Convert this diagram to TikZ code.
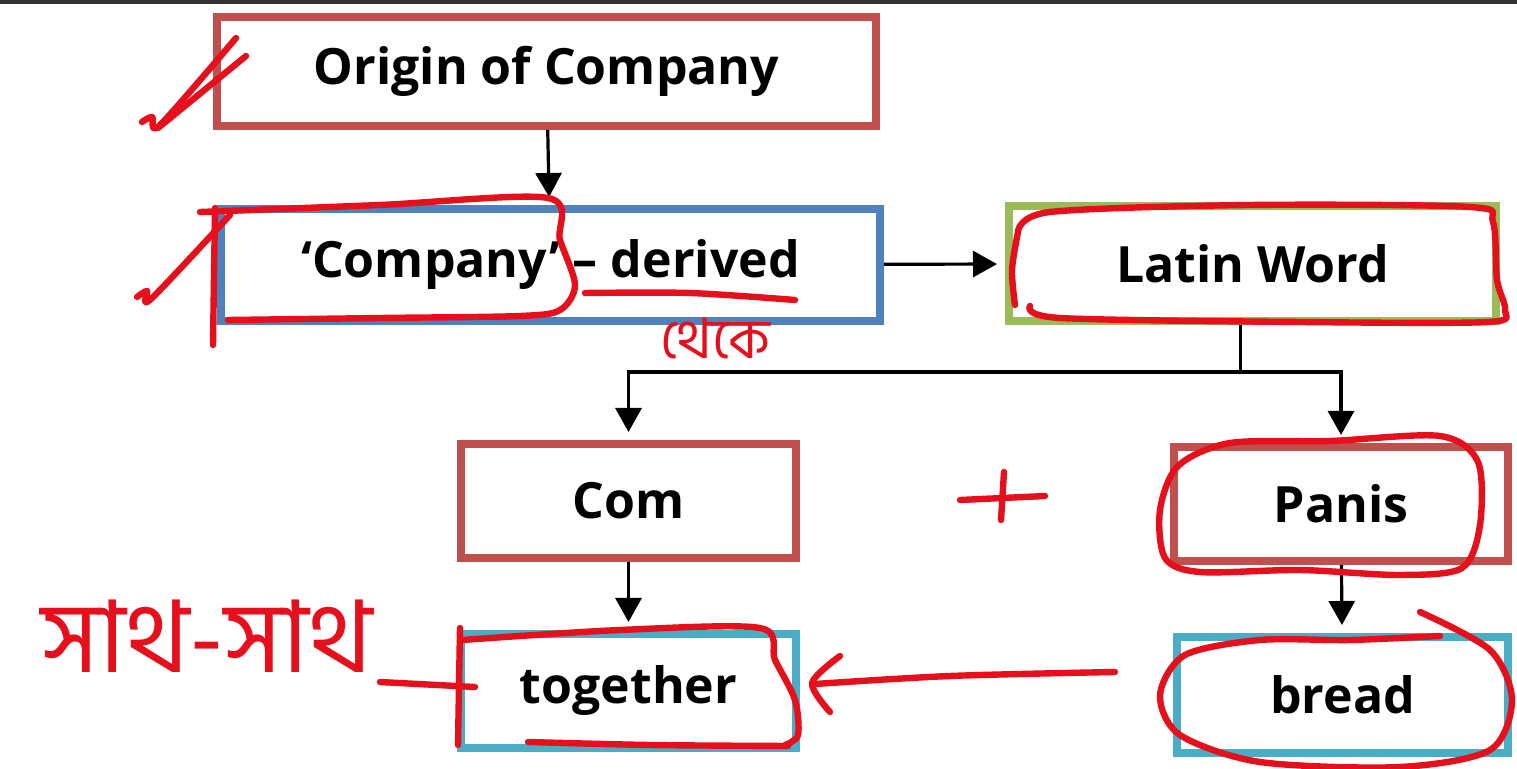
\documentclass[tikz,border=0pt]{standalone}
\usepackage{fontspec}
\setmainfont{Open Sans}
\newfontfamily\bnfont[Script=Bengali]{Hind Siliguri}
\usepackage{tikz}
\usetikzlibrary{arrows.meta}
\definecolor{boxred}{HTML}{C0504D}
\definecolor{boxblue}{HTML}{4F81BD}
\definecolor{boxgreen}{HTML}{9BBB59}
\definecolor{boxcyan}{HTML}{4BACC6}
\definecolor{penred}{HTML}{E5101C}
\definecolor{topline}{HTML}{333333}

\begin{document}
\begin{tikzpicture}[x=0.5pt,y=-0.5pt,
    box/.style={draw, line width=4pt, fill=white, inner sep=0pt,
      font=\fontsize{25}{30}\selectfont\bfseries},
    arr/.style={line width=1.6pt, shorten >=4pt, -{Triangle[length=12pt,width=13pt]}},
    hand/.style={penred, line width=3.2pt, line cap=round, line join=round}]
    \useasboundingbox (0,0) rectangle (1517,769);
    \fill[topline] (0,0) rectangle (1517,4);

    % boxes
    \node[box, draw=boxred, minimum width=329.5pt, minimum height=54.5pt] (origin) at (546.5,71.5) {Origin of Company};
    \node[box, draw=boxblue, minimum width=329.5pt, minimum height=56pt] (company) at (550.5,265) {`Company' -- derived};
    \node[box, draw=boxgreen, minimum width=243.5pt, minimum height=57.5pt] (latin) at (1252.5,263.5) {Latin Word};
    \node[box, draw=boxred, minimum width=167.5pt, minimum height=57pt] (com) at (628.5,501) {Com};
    \node[box, draw=boxred, minimum width=167pt, minimum height=57pt] (panis) at (1341,504) {Panis};
    \node[box, draw=boxcyan, minimum width=167.5pt, minimum height=57pt] (together) at (628.5,691) {together};
    \node[box, draw=boxcyan, minimum width=165.5pt, minimum height=58pt] (bread) at (1342.5,695) {bread};

    % connectors
    \draw[arr] (origin) -- (company);
    \draw[arr] (company) -- (latin);
    \draw[arr] ([xshift=-6pt]latin.south) -- ++(0,47) -| (com.north);
    \draw[arr] ([xshift=-6pt]latin.south) -- ++(0,47) -| (panis.north);
    \draw[arr] (com) -- (together);
    \draw[arr] (panis) -- (bread);

    % hand written marks
    \draw[hand] plot[smooth] coordinates {(142,122) (152,117) (160,125) (236,38)};
    \draw[hand] plot[smooth] coordinates {(158,128) (180,110) (246,56)};
    \draw[hand] plot[smooth] coordinates {(137,297) (147,291) (151,299) (230,215)};
    \draw[hand] plot[smooth] coordinates {(200,212) (380,205) (548,198) (560,240) (575,285) (560,310) (520,316) (380,318) (228,320)};
    \draw[hand] (215,208) -- (213,345);
    \draw[hand] plot[smooth] coordinates {(585,293) (690,293) (795,300)};
    \node[hand, font=\bnfont\fontsize{28}{32}\selectfont] (from) at (715,338) {থেকে};
    \draw[hand] plot[smooth] coordinates {(1018,232) (1050,212) (1250,205) (1470,207) (1493,222) (1497,280) (1505,310) (1488,322) (1300,322) (1060,318) (1030,306)};
    \draw[hand] plot[smooth] coordinates {(1018,232) (1012,270) (1015,305)};
    \draw[hand] (960,500) -- (1045,496);
    \draw[hand] (1004,472) -- (1001,520);
    \draw[hand] plot[smooth cycle] coordinates {(1230,443) (1330,441) (1440,436) (1478,462) (1480,525) (1462,568) (1400,575) (1300,570) (1200,572) (1165,558) (1160,510) (1178,466)};
    \draw[hand] plot[smooth] coordinates {(1420,612) (1490,650) (1512,700) (1490,750) (1400,767) (1260,762) (1180,735) (1160,695) (1185,655) (1260,640) (1350,640) (1440,636)};
    \draw[hand] plot[smooth] coordinates {(1115,672) (950,676) (815,684)};
    \draw[hand] plot[smooth] coordinates {(840,656) (812,683) (830,712)};
    \draw[hand] plot[smooth] coordinates {(462,640) (620,630) (760,628) (775,660) (795,700) (798,735) (785,745)};
    \draw[hand] plot[smooth] coordinates {(528,742) (650,745) (788,746)};
    \draw[hand] (460,628) -- (458,745);
    \draw[hand] (380,682) -- (475,687);
    \node[hand, font=\bnfont\fontsize{50}{54}\selectfont] (sath) at (207,636) {সাথ-সাথ};

  \end{tikzpicture}
\end{document}
